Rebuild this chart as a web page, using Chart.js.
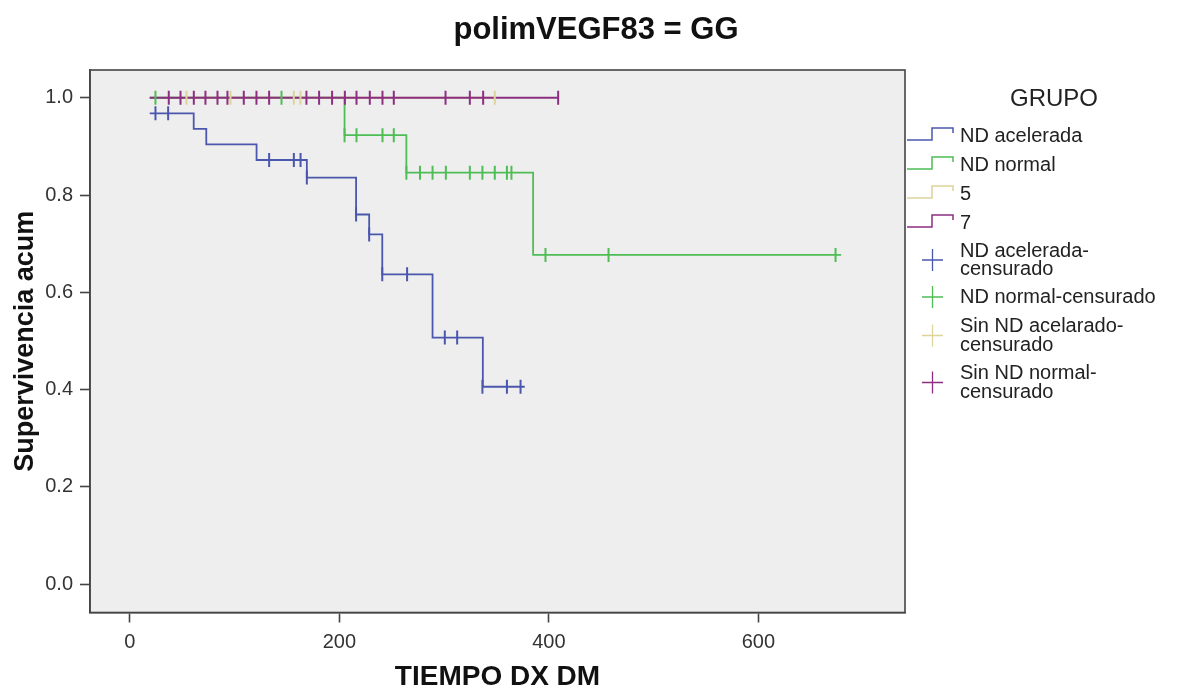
<!DOCTYPE html>
<html>
<head>
<meta charset="utf-8">
<script src="https://cdn.jsdelivr.net/npm/chart.js@4.4.1/dist/chart.umd.min.js"></script>
<style>
  html, body { margin: 0; padding: 0; background: #ffffff; }
  #wrap { width: 1177px; height: 694px; position: relative; }
</style>
</head>
<body>
<div id="wrap"><canvas id="c" width="1177" height="694"></canvas></div>
<script>
// ---------- data ----------
const chartTitle = 'polimVEGF83 = GG';
const xTitle = 'TIEMPO DX DM';
const yTitle = 'Supervivencia acum';
const legendTitle = 'GRUPO';

const xTicks = [0, 200, 400, 600];
const yTicks = [0.0, 0.2, 0.4, 0.6, 0.8, 1.0];

// ND acelerada (step curve)
const blueTimes = [19, 61, 73, 121, 169, 216, 228.5, 241, 289, 337, 377];
const blueSurv  = [0.968, 0.936, 0.904, 0.872, 0.836, 0.760, 0.719, 0.637, 0.507, 0.406, 0.406];
const blueCensTimes = [24.5, 36.6, 133, 156.6, 163, 169, 216, 228.5, 241, 264.7, 300.7, 312.5, 336.6, 360, 373];
const blueCensSurv  = [0.968, 0.968, 0.872, 0.872, 0.872, 0.836, 0.760, 0.719, 0.637, 0.637, 0.507, 0.507, 0.406, 0.406, 0.406];

// ND normal
const greenTimes = [19, 205, 264, 385, 679];
const greenSurv  = [1.0, 0.923, 0.846, 0.677, 0.677];
const greenCensTimes = [24.5, 144.8, 205, 216.4, 241.2, 252, 264, 277, 289, 301.7, 324.6, 336.6, 348.4, 360, 364.3, 396.8, 457, 673.7];
const greenCensSurv  = [1.0, 1.0, 0.923, 0.923, 0.923, 0.923, 0.846, 0.846, 0.846, 0.846, 0.846, 0.846, 0.846, 0.846, 0.846, 0.677, 0.677, 0.677];

// 5 (Sin ND acelarado)
const tanTimes = [54, 348.4];
const tanSurv  = [1.0, 1.0];
const tanCensTimes = [54.1, 96.1, 156.6, 162.9, 348.4];
const tanCensSurv  = [1.0, 1.0, 1.0, 1.0, 1.0];

// 7 (Sin ND normal)
const purpleTimes = [19, 409];
const purpleSurv  = [1.0, 1.0];
const purpleCensTimes = [37.2, 48.4, 61.1, 72.2, 83.7, 93.2, 108.8, 120.9, 133, 168.6, 180.7, 193.1, 205.3, 216.4, 229.1, 241.2, 252, 301.4, 324.6, 337.3, 408.9];
const purpleCensSurv  = [1, 1, 1, 1, 1, 1, 1, 1, 1, 1, 1, 1, 1, 1, 1, 1, 1, 1, 1, 1, 1];

const groupLabels = ['ND acelerada', 'ND normal', '5', '7'];
const censorLabels = [['ND acelerada-', 'censurado'], ['ND normal-censurado'], ['Sin ND acelarado-', 'censurado'], ['Sin ND normal-', 'censurado']];

// ---------- styles ----------
const BLUE = '#4b57ad';
const GREEN = '#4fbd55';
const TAN = '#ddd49a';
const PURPLE = '#8c2f80';
const colors = [BLUE, GREEN, TAN, PURPLE];
const FRAME = '#444444';
const FONT = "'Liberation Sans', Arial, sans-serif";

function pts(xs, ys) { return xs.map((x, i) => ({ x: x, y: ys[i] })); }

function stepSet(label, xs, ys, color, order) {
  return { type: 'line', label: label, data: pts(xs, ys), borderColor: color, borderWidth: 1.8,
    stepped: true, pointRadius: 0, fill: false, order: order };
}
function censSet(label, xs, ys, color, order) {
  return { type: 'scatter', label: label, data: pts(xs, ys), borderColor: color, backgroundColor: color,
    pointStyle: 'line', rotation: 90, pointRadius: 7, borderWidth: 2, order: order };
}

const bgPlugin = {
  id: 'bg',
  beforeDraw(chart) {
    const { ctx, chartArea: a } = chart;
    ctx.save();
    ctx.fillStyle = '#eeeeee';
    ctx.fillRect(a.left, a.top, a.right - a.left, a.bottom - a.top);
    ctx.restore();
  },
  afterDraw(chart) {
    const { ctx, chartArea: a } = chart;
    ctx.save();
    // frame
    ctx.strokeStyle = FRAME;
    ctx.lineWidth = 1.6;
    ctx.strokeRect(a.left, a.top, a.right - a.left, a.bottom - a.top);
    // title
    ctx.fillStyle = '#111';
    ctx.font = 'bold 31px ' + FONT;
    ctx.textAlign = 'center';
    ctx.textBaseline = 'middle';
    ctx.fillText(chartTitle, 596, 30);
    // legend
    ctx.fillStyle = '#222';
    ctx.font = '24px ' + FONT;
    ctx.fillText(legendTitle, 1054, 99);
    ctx.textAlign = 'left';
    ctx.font = '20px ' + FONT;
    const gy = [136, 165, 194, 223];
    groupLabels.forEach((lab, i) => {
      const y = gy[i];
      ctx.strokeStyle = colors[i];
      ctx.lineWidth = 1.5;
      ctx.beginPath();
      ctx.moveTo(907, y + 4);
      ctx.lineTo(932, y + 4);
      ctx.lineTo(932, y - 8);
      ctx.lineTo(953, y - 8);
      ctx.lineTo(953, y - 3);
      ctx.stroke();
      ctx.fillStyle = '#222';
      ctx.fillText(lab, 960, y);
    });
    const cy = [[251, 269], [297], [326, 345], [373, 392]];
    censorLabels.forEach((lines, i) => {
      const ys = cy[i];
      const mid = (ys[0] + ys[ys.length - 1]) / 2;
      ctx.strokeStyle = colors[i];
      ctx.lineWidth = 1.3;
      ctx.beginPath();
      ctx.moveTo(922, mid); ctx.lineTo(943, mid);
      ctx.moveTo(932.5, mid - 11); ctx.lineTo(932.5, mid + 11);
      ctx.stroke();
      ctx.fillStyle = '#222';
      lines.forEach((t, k) => ctx.fillText(t, 960, ys[k]));
    });
    ctx.restore();
  }
};

new Chart(document.getElementById('c'), {
  data: {
    datasets: [
      censSet('Sin ND normal-censurado', purpleCensTimes, purpleCensSurv, PURPLE, 0),
      censSet('Sin ND acelarado-censurado', tanCensTimes, tanCensSurv, TAN, 1),
      censSet('ND normal-censurado', greenCensTimes, greenCensSurv, GREEN, 2),
      censSet('ND acelerada-censurado', blueCensTimes, blueCensSurv, BLUE, 3),
      stepSet('7', purpleTimes, purpleSurv, PURPLE, 4),
      stepSet('5', tanTimes, tanSurv, TAN, 5),
      stepSet('ND normal', greenTimes, greenSurv, GREEN, 6),
      stepSet('ND acelerada', blueTimes, blueSurv, BLUE, 7)
    ]
  },
  options: {
    responsive: false,
    animation: false,
    devicePixelRatio: 1,
    layout: { padding: { left: 0, top: 70, right: 272, bottom: 0 } },
    plugins: { legend: { display: false }, tooltip: { enabled: false }, title: { display: false } },
    scales: {
      x: {
        type: 'linear', min: -38, max: 740,
        afterBuildTicks: s => { s.ticks = xTicks.map(v => ({ value: v })); },
        afterFit: s => { s.height = 81.5; },
        grid: { drawOnChartArea: false, drawTicks: true, tickLength: 10, tickColor: FRAME, tickWidth: 1.6 },
        border: { display: true, color: FRAME, width: 1.6 },
        ticks: { color: '#333', font: { family: FONT, size: 20 }, padding: 8, maxRotation: 0,
          callback: v => String(v) },
        title: { display: true, text: xTitle, color: '#111', font: { family: FONT, size: 28, weight: 'bold', lineHeight: 1.2 },
          padding: { top: 0, bottom: 0 } }
      },
      y: {
        type: 'linear', min: -0.058, max: 1.057,
        afterBuildTicks: s => { s.ticks = yTicks.map(v => ({ value: v })); },
        afterFit: s => { s.width = 90; },
        grid: { drawOnChartArea: false, drawTicks: true, tickLength: 10, tickColor: FRAME, tickWidth: 1.6 },
        border: { display: true, color: FRAME, width: 1.6 },
        ticks: { color: '#333', font: { family: FONT, size: 20 }, padding: 7,
          callback: v => Number(v).toFixed(1) },
        title: { display: true, text: yTitle, color: '#111', font: { family: FONT, size: 27, weight: 'bold', lineHeight: 1.2 },
          padding: { top: 9, bottom: 0 } }
      }
    }
  },
  plugins: [bgPlugin]
});
</script>
</body>
</html>
